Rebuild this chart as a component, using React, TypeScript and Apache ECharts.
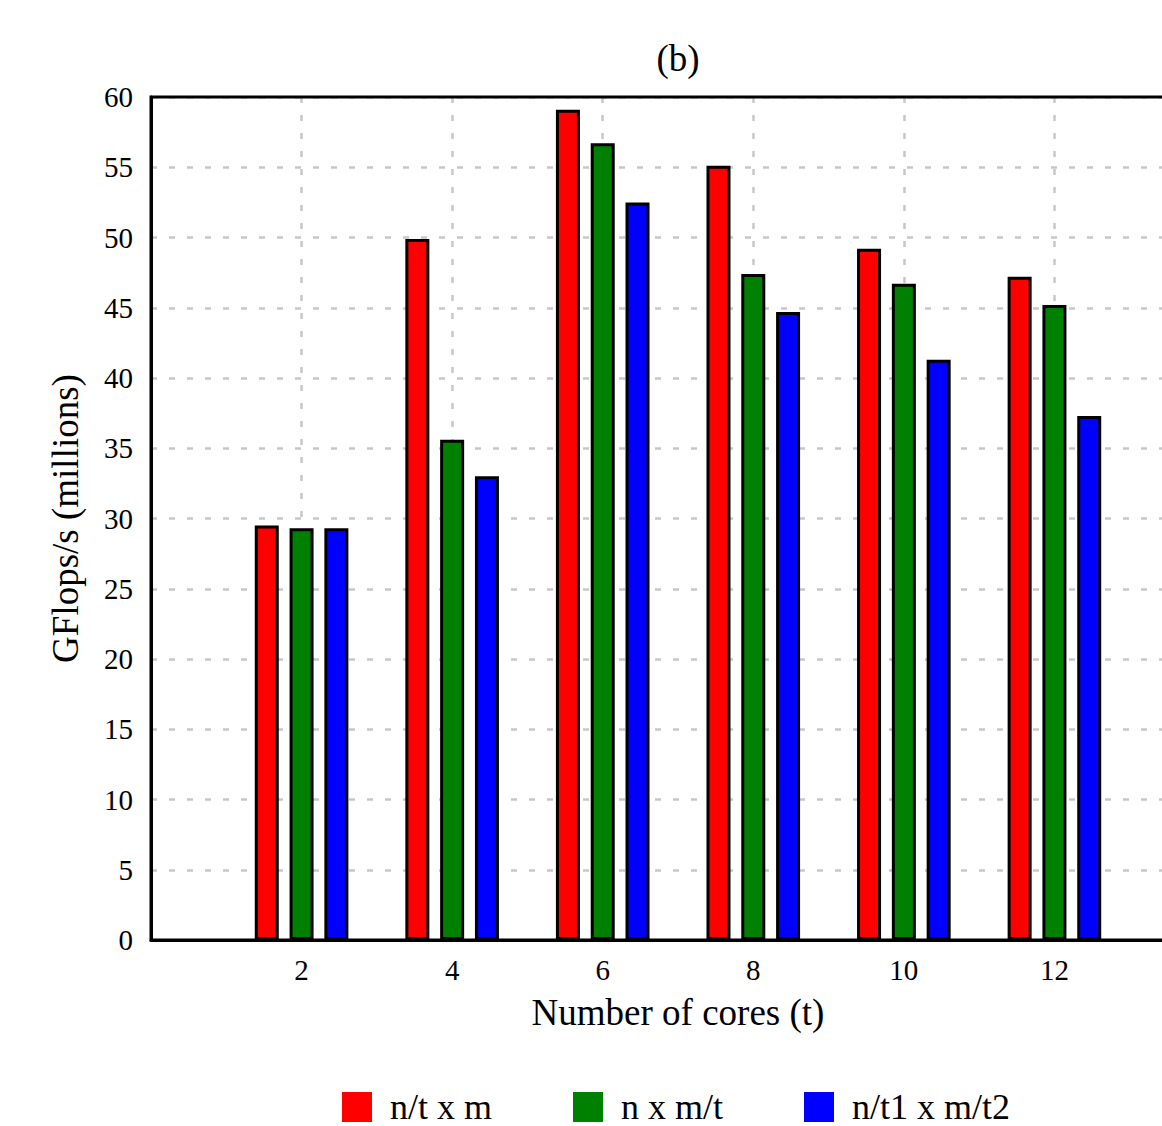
import React, { useEffect, useRef } from "react";
import * as echarts from "echarts";

const cores = [2, 4, 6, 8, 10, 12];
const seriesNames = ["n/t x m", "n x m/t", "n/t1 x m/t2"];
const seriesColors = ["#ff0000", "#008000", "#0000ff"];
const valsNtM = [29.5, 49.9, 59.1, 55.1, 49.2, 47.2];
const valsNMt = [29.3, 35.6, 56.7, 47.4, 46.7, 45.2];
const valsNt1Mt2 = [29.3, 33.0, 52.5, 44.7, 41.3, 37.3];
const allValues = [valsNtM, valsNMt, valsNt1Mt2];

const FONT = "'Liberation Serif', 'Times New Roman', serif";

export default function App() {
  const ref = useRef<HTMLDivElement>(null);
  useEffect(() => {
    if (!ref.current) return;
    const chart = echarts.init(ref.current, null, { renderer: "svg" });
    const series = allValues.map((vals, i) => ({
      name: seriesNames[i],
      type: "bar",
      barWidth: 24,
      barGap: "45%",
      data: cores.map((c, j) => [c, vals[j]]),
      itemStyle: { color: seriesColors[i], borderColor: "#000", borderWidth: 3 },
    }));
    chart.setOption({
      animation: false,
      backgroundColor: "#fff",
      textStyle: { fontFamily: FONT },
      graphic: [
        {
          type: "text",
          x: 678,
          y: 58,
          style: {
            text: "(b)",
            font: `37px ${FONT}`,
            fill: "#000",
            textAlign: "center",
            textVerticalAlign: "middle",
          },
        },
      ],
      grid: {
        left: 151,
        top: 97,
        right: 5,
        bottom: 186,
        show: true,
        z: 5,
        borderColor: "#000",
        borderWidth: 3,
        containLabel: false,
      },
      legend: {
        left: 342,
        top: 1089,
        padding: 0,
        itemWidth: 30,
        itemHeight: 30,
        itemGap: 81,
        icon: "rect",
        itemStyle: { borderWidth: 0 },
        textStyle: {
          fontFamily: FONT,
          fontSize: 36,
          lineHeight: 34,
          color: "#000",
          padding: [0, 0, 0, 13],
        },
        data: seriesNames,
      },
      xAxis: {
        type: "value",
        min: 0,
        max: 14,
        interval: 2,
        name: "Number of cores (t)",
        nameLocation: "middle",
        nameGap: 54,
        nameTextStyle: { fontFamily: FONT, fontSize: 37, color: "#000" },
        axisLine: { show: true, lineStyle: { color: "#000", width: 3 } },
        axisTick: { show: false },
        axisLabel: {
          fontFamily: FONT,
          fontSize: 29,
          color: "#000",
          margin: 15,
          formatter: (v: number) => (v === 0 || v === 14 ? "" : String(v)),
        },
        splitLine: { show: true, lineStyle: { color: "#c8c8c8", width: 2.5, type: [6, 12] } },
      },
      yAxis: {
        type: "value",
        min: 0,
        max: 60,
        interval: 5,
        name: "GFlops/s (millions)",
        nameLocation: "middle",
        nameGap: 67,
        nameTextStyle: { fontFamily: FONT, fontSize: 37, color: "#000" },
        axisLine: { show: true, lineStyle: { color: "#000", width: 3 } },
        axisTick: { show: false },
        axisLabel: { fontFamily: FONT, fontSize: 29, color: "#000", margin: 18 },
        splitLine: { show: true, lineStyle: { color: "#c8c8c8", width: 2.5, type: [6, 12] } },
      },
      series,
    });
    return () => chart.dispose();
  }, []);
  return (
    <div style={{ position: "fixed", left: 0, top: 0, width: 1162, height: 1126, overflow: "hidden", background: "#fff" }}>
      <div ref={ref} style={{ width: 1210, height: 1126 }} />
    </div>
  );
}
